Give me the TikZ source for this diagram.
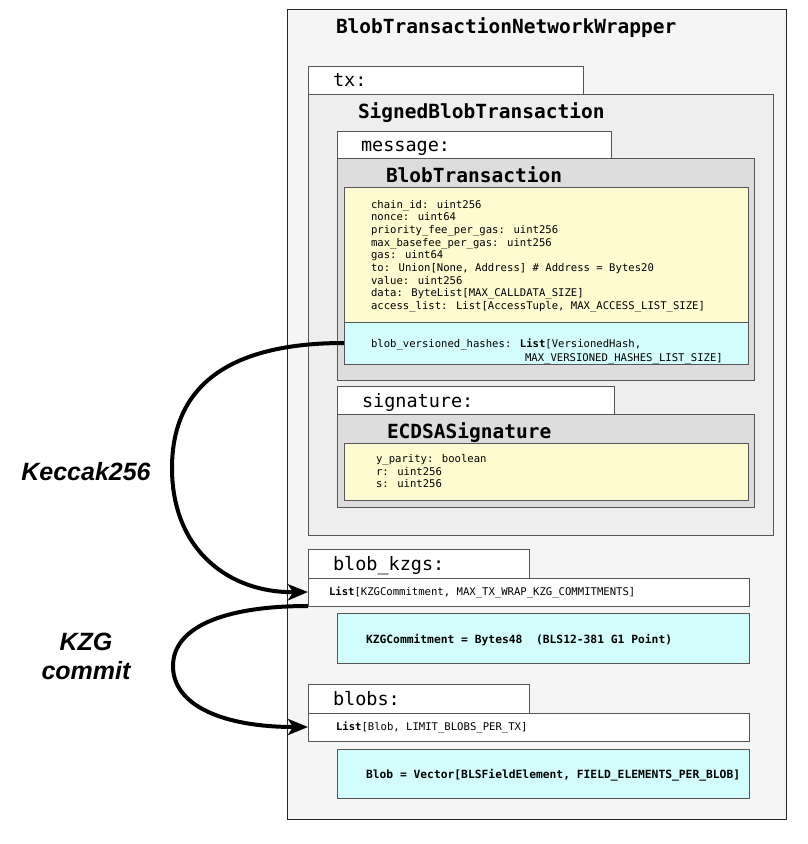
\documentclass[tikz,border=0pt]{standalone}
\usepackage{fontspec}
\usetikzlibrary{arrows.meta}
\newfontfamily\dmono{DejaVu Sans Mono}
\newfontfamily\lsans{Liberation Sans}
\definecolor{outerbg}{HTML}{F5F5F5}
\definecolor{signedbg}{HTML}{EEEEEE}
\definecolor{structbg}{HTML}{DDDDDD}
\definecolor{yel}{HTML}{FFFBD0}
\definecolor{cya}{HTML}{D3FCFC}
\definecolor{edge}{HTML}{555555}
\begin{document}
\begin{tikzpicture}[x=1pt,y=-1pt,
  box/.style={draw=edge, line width=0.8pt, rectangle, inner sep=0pt, outer sep=0pt, anchor=north west},
  txt/.style={inner sep=0pt, outer sep=0pt, anchor=base west},
  bigtitle/.style={txt, font=\dmono\bfseries\fontsize{19.5}{22}\selectfont},
  fieldlab/.style={txt, font=\dmono\fontsize{18.5}{22}\selectfont},
  small/.style={txt, font=\dmono\fontsize{10.6}{12.7}\selectfont},
  smallbold/.style={txt, font=\dmono\bfseries\fontsize{11.3}{13}\selectfont},
  flow/.style={line width=4pt, -{Stealth[length=20pt,width=16pt,inset=5pt]}},
  arrowlab/.style={inner sep=0pt, align=center, font=\lsans\bfseries\itshape\fontsize{25}{29}\selectfont}
]
\useasboundingbox (0,0) rectangle (808,844);
\fill[white] (0,0) rectangle (808,844);

% outer wrapper
\node[box, draw=black!85, fill=outerbg, minimum width=499pt, minimum height=810pt] (outer) at (287,9) {};
\node[bigtitle] (outertitle) at (336,33) {BlobTransactionNetworkWrapper};

% tx
\node[box, fill=white, minimum width=275pt, minimum height=28pt] (txlab) at (308,66) {};
\node[fieldlab] (txtext) at (333,86) {tx:};
\node[box, fill=signedbg, minimum width=465pt, minimum height=441pt] (signed) at (308,94) {};
\node[bigtitle] (signedtitle) at (358,118) {SignedBlobTransaction};

% message
\node[box, fill=white, minimum width=274pt, minimum height=27pt] (msglab) at (337,131) {};
\node[fieldlab] (msgtext) at (361,151) {message:};
\node[box, fill=structbg, minimum width=417pt, minimum height=222pt] (blobtx) at (337,158) {};
\node[bigtitle] (blobtxtitle) at (386,182) {BlobTransaction};
\node[box, fill=yel, minimum width=404pt, minimum height=135pt] (fields) at (344,187) {};
\foreach \t [count=\i from 0] in {
  {chain\_id: uint256},
  {nonce: uint64},
  {priority\_fee\_per\_gas: uint256},
  {max\_basefee\_per\_gas: uint256},
  {gas: uint64},
  {to: Union[None, Address] \# Address = Bytes20},
  {value: uint256},
  {data: ByteList[MAX\_CALLDATA\_SIZE]},
  {access\_list: List[AccessTuple, MAX\_ACCESS\_LIST\_SIZE]}}
  \node[small] (field\i) at (371,{208+12.7*\i}) {\t};
\node[box, fill=cya, minimum width=404pt, minimum height=42pt] (hashes) at (344,322) {};
\node[small] (hashes1) at (371,347.5) {blob\_versioned\_hashes: \textbf{List}[VersionedHash,};
\node[small] (hashes2) at (525,361) {MAX\_VERSIONED\_HASHES\_LIST\_SIZE]};

% signature
\node[box, fill=white, minimum width=277pt, minimum height=28pt] (siglab) at (337,386) {};
\node[fieldlab] (sigtext) at (362,407) {signature:};
\node[box, fill=structbg, minimum width=417pt, minimum height=93pt] (ecdsa) at (337,414) {};
\node[bigtitle] (ecdsatitle) at (387,438) {ECDSASignature};
\node[box, fill=yel, minimum width=404pt, minimum height=57pt] (sigfields) at (344,443) {};
\node[small] (sig1) at (376,462.5) {y\_parity: boolean};
\node[small] (sig2) at (376,475) {r: uint256};
\node[small] (sig3) at (376,487.5) {s: uint256};

% blob_kzgs
\node[box, fill=white, minimum width=221pt, minimum height=29pt] (kzglab) at (308,549) {};
\node[fieldlab] (kzgtext) at (333,570) {blob\_kzgs:};
\node[box, fill=white, minimum width=441pt, minimum height=28pt] (kzglist) at (308,578) {};
\node[small] (kzglisttext) at (329,595.5) {\textbf{List}[KZGCommitment, MAX\_TX\_WRAP\_KZG\_COMMITMENTS]};
\node[box, fill=cya, minimum width=412pt, minimum height=50pt] (kzgdef) at (337,613) {};
\node[smallbold] (kzgdeftext) at (366,643) {KZGCommitment = Bytes48\ \ (BLS12-381 G1 Point)};

% blobs
\node[box, fill=white, minimum width=221pt, minimum height=29pt] (bloblab) at (308,684) {};
\node[fieldlab] (blobtext) at (333,705) {blobs:};
\node[box, fill=white, minimum width=441pt, minimum height=28pt] (bloblist) at (308,713) {};
\node[small] (bloblisttext) at (336,730.5) {\textbf{List}[Blob, LIMIT\_BLOBS\_PER\_TX]};
\node[box, fill=cya, minimum width=412pt, minimum height=49pt] (blobdef) at (337,749) {};
\node[smallbold] (blobdeftext) at (366,778) {Blob = Vector[BLSFieldElement, FIELD\_ELEMENTS\_PER\_BLOB]};

% arrows
\coordinate (kmid) at (172,468);
\coordinate (zmid) at (173,666);
\draw[flow] (hashes.west) .. controls (230,343) and (172,385) .. (kmid)
  .. controls (172,551) and (230,593) .. (kzglist.west);
\draw[flow] (kzglist.south west) .. controls (222,606) and (173,628) .. (zmid)
  .. controls (173,705) and (222,727) .. (bloblist.west);

\node[arrowlab] (keccak) at (86,472) {Keccak256};
\node[arrowlab] (kzgcommit) at (86,656) {KZG\\commit};
\end{tikzpicture}
\end{document}
